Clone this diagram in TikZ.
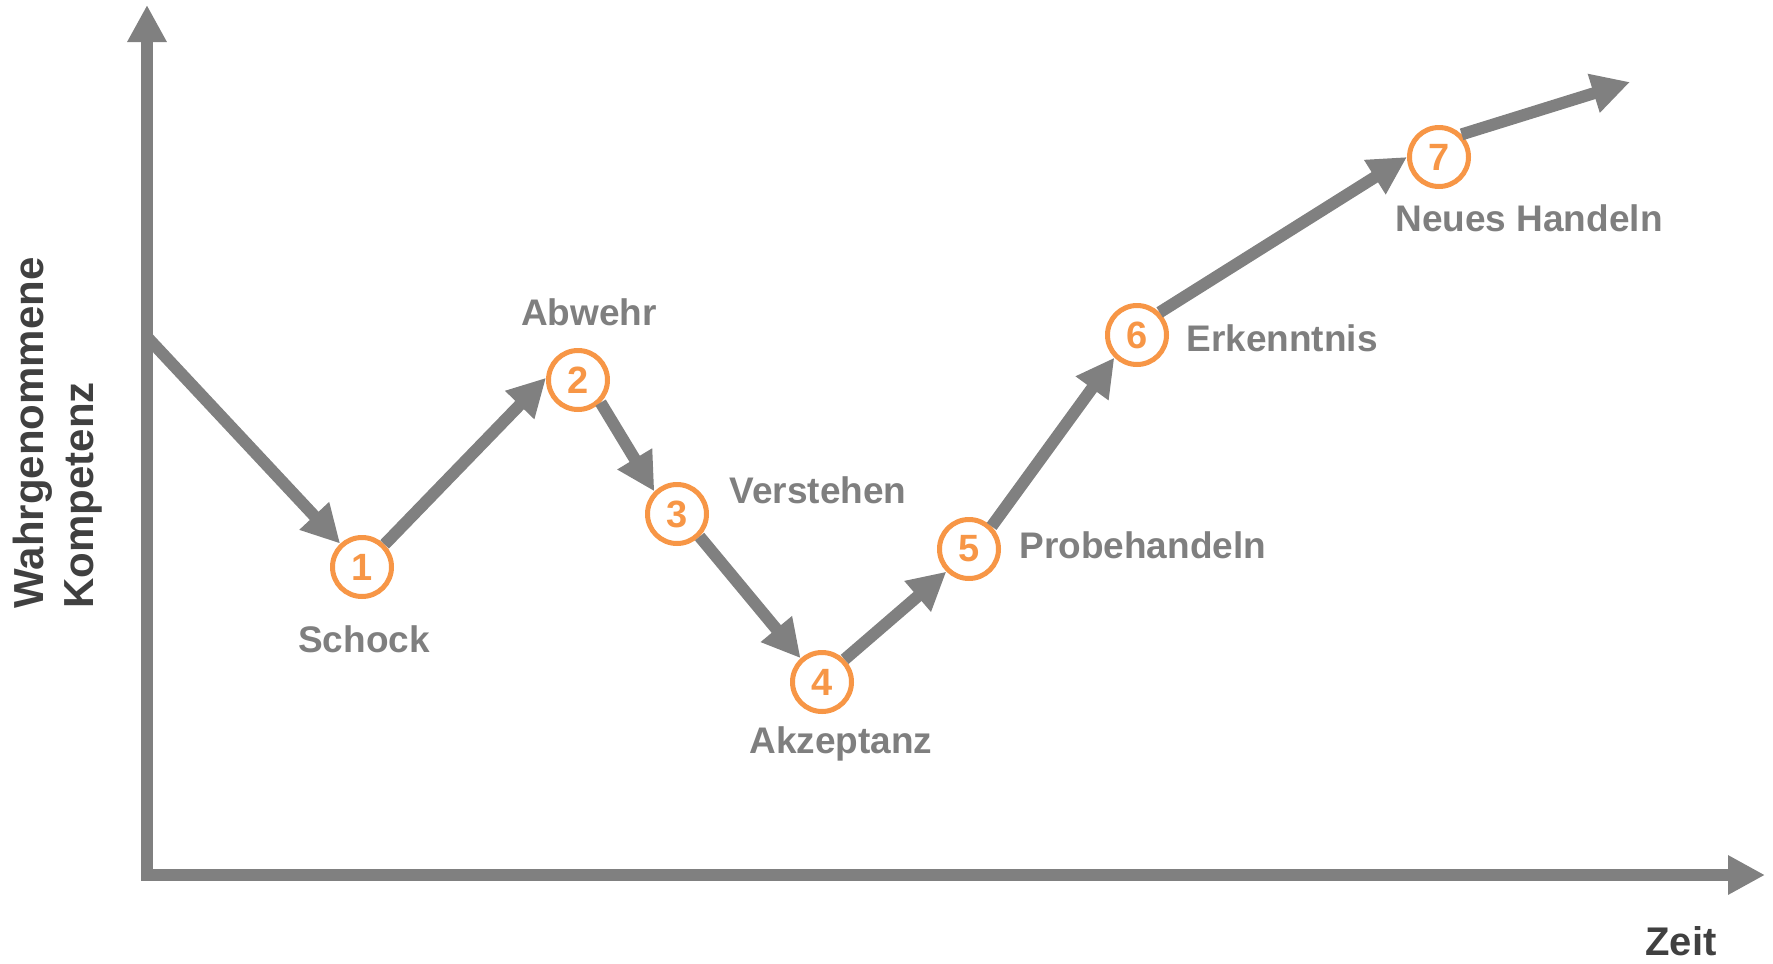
\documentclass[tikz,border=0pt]{standalone}
\usepackage{fontspec}
\setmainfont{Liberation Sans}
\usetikzlibrary{arrows.meta}
\definecolor{linegray}{HTML}{808080}
\definecolor{labgray}{HTML}{7F7F7F}
\definecolor{axisgray}{HTML}{404040}
\definecolor{orng}{HTML}{F79646}
\begin{document}
\begin{tikzpicture}[x=0.5pt,y=-0.5pt,
  stage/.style={circle, draw=orng, line width=2.5pt, fill=white, minimum size=29.5pt, inner sep=0pt,
    text=orng, font=\bfseries\fontsize{19}{19}\selectfont},
  lab/.style={text=labgray, font=\bfseries\fontsize{18.5}{20}\selectfont, inner sep=0pt},
  axlab/.style={text=axisgray, font=\bfseries\fontsize{21}{25}\selectfont, inner sep=0pt},
  flow/.style={draw=linegray, line width=6pt, -{Triangle[length=19pt,width=19pt]}},
  axis/.style={draw=linegray, line width=6pt, -{Triangle[length=18.5pt,width=18.5pt]}}]
\useasboundingbox (0,0) rectangle (1773,964);
% axes
\coordinate (o) at (147,875);
\coordinate (ytop) at (147,5);
\coordinate (xstart) at (141,875);
\coordinate (xend) at (1765,875);
\draw[axis] (o) -- (ytop);
\draw[axis] (xstart) -- (xend);
% stages
\node[stage] (c1) at (362,567) {1};
\node[stage] (c2) at (578,380) {2};
\node[stage] (c3) at (677,514) {3};
\node[stage] (c4) at (822,682) {4};
\node[stage] (c5) at (969,549) {5};
\node[stage] (c6) at (1137,335) {6};
\node[stage] (c7) at (1439,157) {7};
\coordinate (start) at (147,337);
\coordinate (end) at (1630,82);
\draw[flow] (start) -- (c1.133);
\draw[flow] (c1.45) -- (c2.176);
\draw[flow] (c2.-45) -- (c3.135);
\draw[flow] (c3.-45) -- (c4.132);
\draw[flow] (c4.45) -- (c5.225);
\draw[flow] (c5.45) -- (c6.225);
\draw[flow] (c6.45) -- (c7.180);
\draw[flow] (c7.45) -- (end);
% labels
\node[lab] (l1) at (364,639) {Schock};
\node[lab] (l2) at (589,312) {Abwehr};
\node[lab] (l3) at (818,490) {Verstehen};
\node[lab] (l4) at (841,744) {Akzeptanz};
\node[lab, anchor=west] (l5) at (1019,545) {Probehandeln};
\node[lab, anchor=west] (l6) at (1186,338) {Erkenntnis};
\node[lab, anchor=west] (l7) at (1395,218) {Neues Handeln};
\node[axlab, font=\bfseries\fontsize{20}{24}\selectfont] (zeit) at (1681,941) {Zeit};
\node[axlab, rotate=90, align=left] (ylab) at (58,433) {Wahrgenommene\\Kompetenz};
\end{tikzpicture}
\end{document}
